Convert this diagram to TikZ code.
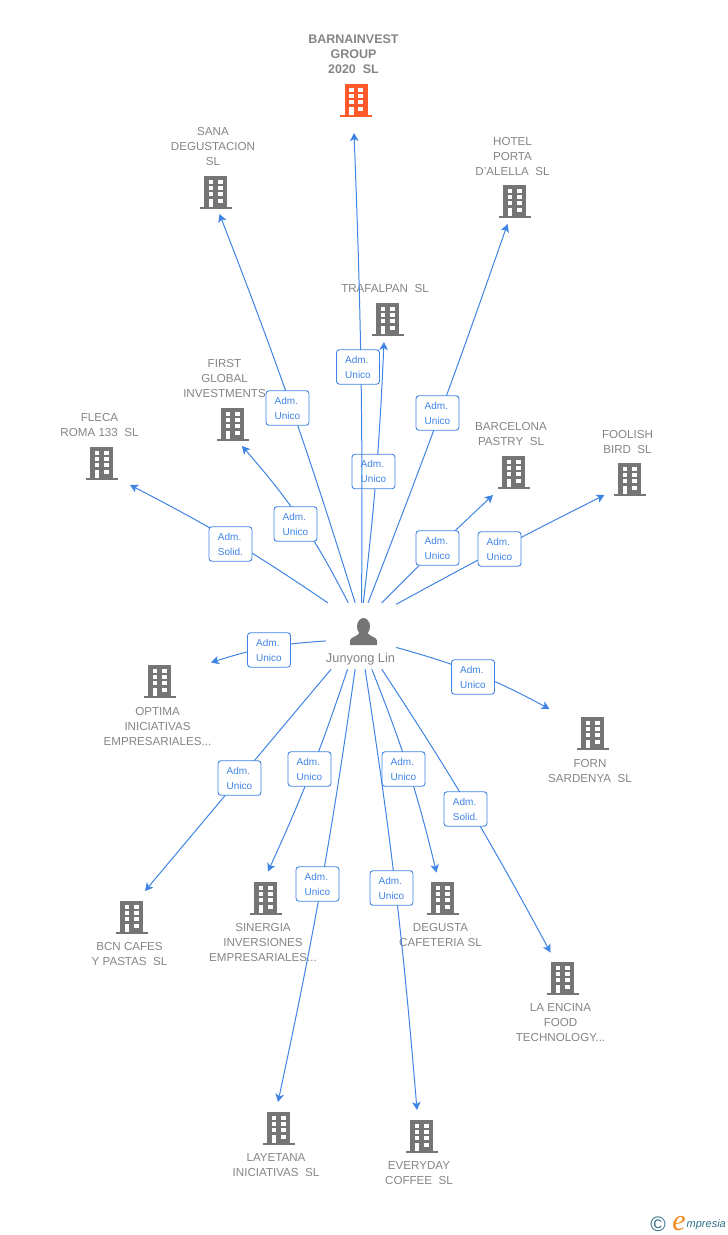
\documentclass[tikz,border=0pt]{standalone}
\usetikzlibrary{arrows.meta}
\usepackage{fontspec}
\setmainfont{Liberation Sans}
\newfontfamily\logofont{Liberation Serif}

\definecolor{icon_grey}{HTML}{757575}
\definecolor{icon_orange}{HTML}{FF5A2B}
\definecolor{text_grey}{HTML}{858585}
\definecolor{link_blue}{HTML}{3F84E5}
\definecolor{logo_orange}{HTML}{F08A1D}
\definecolor{logo_teal}{HTML}{2F6F86}

\tikzstyle{company} = [text=text_grey, align=center, font=\fontsize{11.6}{15}\selectfont, inner sep=0pt]
\tikzstyle{role} = [rectangle, rounded corners=3pt, draw=link_blue, fill=white, text=link_blue, align=left, font=\fontsize{10}{15}\selectfont, minimum width=43pt, minimum height=34.5pt, inner sep=0pt, line width=0.9pt]
\tikzstyle{arrow} = [draw=link_blue, line width=1pt, -{Stealth[length=8pt,width=8.5pt,inset=2pt]}]

\tikzset{
  pics/building/.style={code={
    \fill (-11.5,-16.5) rectangle (11.5,15.3);
    \fill (-16,15.3) rectangle (16,17.2);
    \foreach \ypos in {-12.5,-6.2,0.1} {
      \fill [white] (-7,\ypos) rectangle (-2.4,\ypos+4.2);
      \fill [white] (2.4,\ypos) rectangle (7,\ypos+4.2);
    }
    \fill [white] (-7,6.6) rectangle (-2.4,15.3);
    \fill [white] (2.4,6.6) rectangle (7,10.8);
  }},
  pics/person/.style={code={
    \fill (0,-5.5) ellipse (6.5 and 8.5);
    \fill (-13.5,13) -- (-13.5,8.5) .. controls (-13,5) and (-7,5) .. (-4,1) -- (4,1) .. controls (7,5) and (13,5) .. (13.5,8.5) -- (13.5,13) -- cycle;
  }}
}

\begin{document}
\begin{tikzpicture}[x=1pt, y=-1pt]
    \useasboundingbox (0,0) rectangle (728,1235);

    % person in the middle
    \node (hub) [minimum width=70pt, minimum height=66pt, inner sep=0pt] at (361,636) {};
    \pic [fill=icon_grey] at (363.5,632) {person};
    \node (hub_name) [company, font=\fontsize{12.8}{15}\selectfont] at (360.5,659.5) {Junyong Lin};

    % companies
    \pic [fill=icon_orange] at (356,100) {building};
    \pic [fill=icon_grey] at (215.5,192) {building};
    \pic [fill=icon_grey] at (514.5,201) {building};
    \pic [fill=icon_grey] at (387.5,319) {building};
    \pic [fill=icon_grey] at (232.5,424) {building};
    \pic [fill=icon_grey] at (101.5,463) {building};
    \pic [fill=icon_grey] at (513.5,472) {building};
    \pic [fill=icon_grey] at (629.5,479) {building};
    \pic [fill=icon_grey] at (159.5,681) {building};
    \pic [fill=icon_grey] at (592.5,733) {building};
    \pic [fill=icon_grey] at (131.5,917) {building};
    \pic [fill=icon_grey] at (265.5,898) {building};
    \pic [fill=icon_grey] at (442.5,898) {building};
    \pic [fill=icon_grey] at (562.5,978) {building};
    \pic [fill=icon_grey] at (278.5,1128) {building};
    \pic [fill=icon_grey] at (421.5,1136) {building};

    \node (barnainvest) [company, font=\fontsize{12.5}{15}\selectfont\bfseries] at (353.5,54.5) {BARNAINVEST\\GROUP\\2020\ \ SL};
    \node (sana) [company] at (213,146.5) {SANA\\DEGUSTACION\\SL};
    \node (hotel) [company] at (512.5,156.5) {HOTEL\\PORTA\\D'ALELLA\ \ SL};
    \node (trafalpan) [company] at (385,288.5) {TRAFALPAN\ \ SL};
    \node (first) [company] at (224.5,378.5) {FIRST\\GLOBAL\\INVESTMENTS};
    \node (fleca) [company] at (99.5,425) {FLECA\\ROMA 133\ \ SL};
    \node (barcelona) [company] at (511,434) {BARCELONA\\PASTRY\ \ SL};
    \node (foolish) [company] at (627.5,442) {FOOLISH\\BIRD\ \ SL};
    \node (optima) [company] at (157.5,726.5) {OPTIMA\\INICIATIVAS\\EMPRESARIALES...};
    \node (forn) [company] at (590,771) {FORN\\SARDENYA\ \ SL};
    \node (bcn) [company] at (129.5,954) {BCN CAFES\\Y PASTAS\ \ SL};
    \node (sinergia) [company] at (263,942.5) {SINERGIA\\INVERSIONES\\EMPRESARIALES...};
    \node (degusta) [company] at (440.5,935) {DEGUSTA\\CAFETERIA SL};
    \node (encina) [company] at (560.5,1022.5) {LA ENCINA\\FOOD\\TECHNOLOGY...};
    \node (layetana) [company] at (276,1165) {LAYETANA\\INICIATIVAS\ \ SL};
    \node (everyday) [company] at (419,1173) {EVERYDAY\\COFFEE\ \ SL};

    % arrow ends
    \coordinate (barnainvest_in) at (354,133);
    \coordinate (sana_in) at (219.5,214);
    \coordinate (hotel_in) at (507.5,224);
    \coordinate (trafalpan_in) at (384,342);
    \coordinate (first_in) at (242,446);
    \coordinate (fleca_in) at (130,485);
    \coordinate (barcelona_in) at (493,495);
    \coordinate (foolish_in) at (604.5,495);
    \coordinate (optima_in) at (211,662.5);
    \coordinate (forn_in) at (549.5,709);
    \coordinate (bcn_in) at (145,891);
    \coordinate (sinergia_in) at (268,871.5);
    \coordinate (degusta_in) at (436.5,872.5);
    \coordinate (encina_in) at (550.5,952.5);
    \coordinate (layetana_in) at (278,1102);
    \coordinate (everyday_in) at (417,1110);

    % links, each with its box on top
    \draw [arrow] (hub.86) to[bend right=2] (trafalpan_in);
    \node (role_trafalpan) [role] at (373.5,471.5) {Adm.\\Unico};
    \draw [arrow] (hub.89) to[bend right=1.3] (barnainvest_in);
    \node (role_barnainvest) [role] at (358,367) {Adm.\\Unico};
    \draw [arrow] (hub.100) to[bend right=2] (sana_in);
    \node (role_sana) [role] at (287.5,408) {Adm.\\Unico};
    \draw [arrow] (hub.78) to[bend right=1] (hotel_in);
    \node (role_hotel) [role] at (437.5,413) {Adm.\\Unico};
    \draw [arrow] (hub.111) to[bend right=7] (first_in);
    \node (role_first) [role] at (295.5,524) {Adm.\\Unico};
    \draw [arrow] (hub.135) to[bend right=3.5] (fleca_in);
    \node (role_fleca) [role] at (230.5,544) {Adm.\\Solid.};
    \draw [arrow] (hub.58.8) to[bend left=1] (barcelona_in);
    \node (role_barcelona) [role] at (437.5,548) {Adm.\\Unico};
    \draw [arrow] (hub.42.4) to[bend left=1] (foolish_in);
    \node (role_foolish) [role] at (499.5,549) {Adm.\\Unico};
    \draw [arrow] (hub.188) to[bend right=7] (optima_in);
    \node (role_optima) [role] at (269,650) {Adm.\\Unico};
    \draw [arrow] (hub.-18.9) to[bend left=6.5] (forn_in);
    \node (role_forn) [role] at (473,677) {Adm.\\Unico};
    \draw [arrow] (hub.228) -- (bcn_in);
    \node (role_bcn) [role] at (239.5,778) {Adm.\\Unico};
    \draw [arrow] (hub.248) to[bend left=3] (sinergia_in);
    \node (role_sinergia) [role] at (309.5,769) {Adm.\\Unico};
    \draw [arrow] (hub.260) to[bend left=2] (layetana_in);
    \node (role_layetana) [role] at (317.5,884) {Adm.\\Unico};
    \draw [arrow] (hub.288) to[bend left=4] (degusta_in);
    \node (role_degusta) [role] at (403.5,769) {Adm.\\Unico};
    \draw [arrow] (hub.277) to[bend left=2] (everyday_in);
    \node (role_everyday) [role] at (391.5,888) {Adm.\\Unico};
    \draw [arrow] (hub.302) to[bend left=2.5] (encina_in);
    \node (role_encina) [role] at (465.5,809) {Adm.\\Solid.};

    % logo
    \node (logo_c) [text=logo_teal, font=\fontsize{21}{21}\selectfont, inner sep=0pt] at (658,1224.5) {\textcopyright};
    \node (logo_e) [text=logo_orange, font=\logofont\itshape\fontsize{30}{30}\selectfont, inner sep=0pt] at (679,1223.5) {e};
    \node (logo_name) [text=logo_teal, font=\itshape\fontsize{11}{15}\selectfont, inner sep=0pt, anchor=west] at (686.5,1225) {mpresia};
\end{tikzpicture}
\end{document}
